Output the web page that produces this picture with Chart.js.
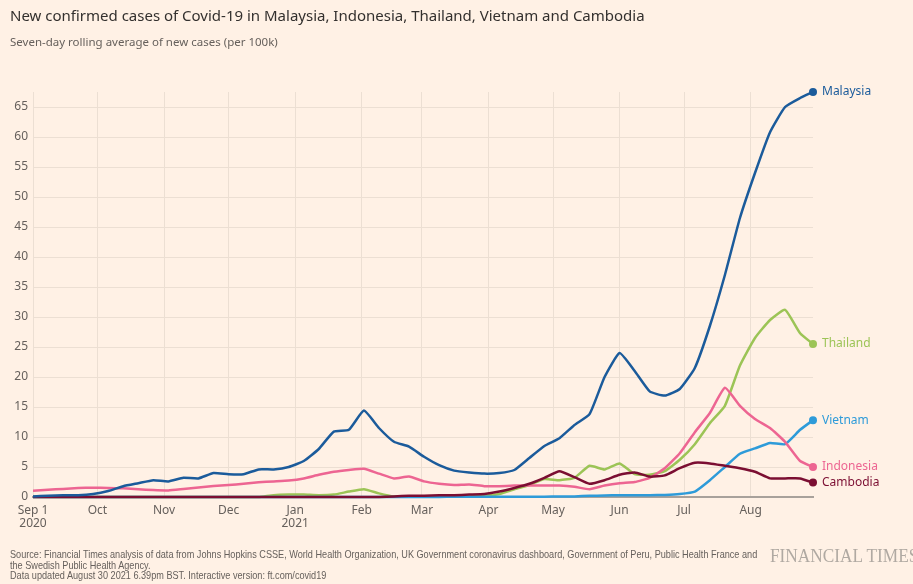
<!DOCTYPE html>
<html>
<head>
<meta charset="utf-8">
<script src="https://cdn.jsdelivr.net/npm/chart.js@4.4.0/dist/chart.umd.min.js"></script>
<style>
  body { margin: 0; background: #fff1e5; }
  #wrap { position: relative; width: 913px; height: 584px; overflow: hidden; background: #fff1e5; }
  #chart { position: absolute; left: 0; top: 0; }
  .title { position: absolute; left: 10px; top: 5px; font: 15px "Noto Sans", sans-serif; color: #33302e; white-space: nowrap; }
  .sub { position: absolute; left: 10px; top: 34px; font: 11.5px "Noto Sans", sans-serif; color: #66605c; white-space: nowrap; }
  .foot { position: absolute; left: 10px; top: 549px; font: 10.5px "Liberation Sans Narrow", "Liberation Sans", sans-serif; color: #66605c; line-height: 10.5px; white-space: nowrap; transform: scaleX(0.87); transform-origin: 0 0; }
  .logo { position: absolute; left: 770px; top: 546px; font: 18px "Liberation Serif", serif; color: #b0a9a2; white-space: nowrap; transform: scaleX(0.96); transform-origin: 0 0; }
</style>
</head>
<body>
<div id="wrap">
  <canvas id="chart" width="913" height="584"></canvas>
  <div class="title">New confirmed cases of Covid-19 in Malaysia, Indonesia, Thailand, Vietnam and Cambodia</div>
  <div class="sub">Seven-day rolling average of new cases (per 100k)</div>
  <div class="foot">Source: Financial Times analysis of data from Johns Hopkins CSSE, World Health Organization, UK Government coronavirus dashboard, Government of Peru, Public Health France and<br>the Swedish Public Health Agency.<br>Data updated August 30 2021 6.39pm BST. Interactive version: ft.com/covid19</div>
  <div class="logo">FINANCIAL TIMES</div>
</div>
<script>
// days since Sep 1 2020
const days = [0,7,14,21,28,35,42,49,56,63,70,77,84,91,98,105,112,119,126,133,140,147,154,161,168,175,182,189,196,203,210,217,224,231,238,245,252,259,266,273,280,287,294,301,308,315,322,329,336,343,350,357,363];

const malaysia = [0.1,0.2,0.3,0.3,0.5,1.0,1.8,2.3,2.8,2.6,
  3.2,3.1,4.0,3.8,3.8,4.6,4.6,5.0,6.0,8.0,
  10.9,11.2,14.4,11.5,9.2,8.4,6.7,5.3,4.4,4.1,
  3.9,4.0,4.5,6.5,8.5,9.8,12.0,13.8,20.0,24.0,
  21.0,17.6,16.9,18.0,21.5,28.5,37.0,46.5,54.0,60.8,
  65.0,66.5,67.5];
const thailand = [0,0,0,0,0,0,0,0,0,0,0,0,0,0,0,0,
  0.3,0.4,0.4,0.3,0.4,0.9,1.3,0.6,0.1,0.1,
  0.1,0.1,0.1,0.1,0.2,0.5,1.3,2.0,3.0,2.8,
  3.2,5.2,4.6,5.6,3.8,3.7,4.3,6.2,8.8,12.3,
  15.2,21.9,26.5,29.5,31.2,27.3,25.5];
const indonesia = [1.05,1.2,1.35,1.5,1.55,1.5,1.45,1.3,1.15,1.1,
  1.35,1.6,1.85,2.0,2.2,2.45,2.6,2.75,3.1,3.7,
  4.2,4.5,4.7,3.9,3.1,3.4,2.6,2.2,2.0,2.1,
  1.8,1.8,1.9,1.9,1.9,1.9,1.7,1.3,1.9,2.3,
  2.5,3.2,4.8,7.3,10.8,14.0,18.2,15.2,13.0,11.5,
  9.2,6.0,5.0];
const vietnam = [0,0,0,0,0,0,0,0,0,0,0,0,0,0,0,0,0,0,0,0,0,0,0,0,0,0,0,0,
  0.05,0.05,0.05,0.05,0.05,0.05,0.05,
  0.1,0.1,0.2,0.25,0.3,0.3,0.3,0.35,0.5,0.9,
  2.8,5.0,7.2,8.1,9.0,8.8,11.2,12.8];
const cambodia = [0,0,0,0,0,0,0,0,0,0,0,0,0,0,0,0,0,0,0,0,0,0,0,0,
  0.1,0.2,0.2,0.3,0.3,0.4,0.5,0.9,1.5,2.2,
  3.2,4.3,3.3,2.2,2.8,3.7,4.1,3.4,3.6,4.8,
  5.7,5.6,5.2,4.8,4.2,3.1,3.1,3.1,2.4];

const monthDays = [0,30,61,91,122,153,181,212,242,273,303,334];
const monthLabels = [['Sep 1','2020'],'Oct','Nov','Dec',['Jan','2021'],'Feb','Mar','Apr','May','Jun','Jul','Aug'];
const yTicks = [0,5,10,15,20,25,30,35,40,45,50,55,60,65];

const series = [
  { name: 'Malaysia', values: malaysia, color: '#1b5b9b' },
  { name: 'Cambodia', values: cambodia, color: '#7b0e32' },
  { name: 'Indonesia', values: indonesia, color: '#ed6592' },
  { name: 'Vietnam', values: vietnam, color: '#2e9bd9' },
  { name: 'Thailand', values: thailand, color: '#9cc456' }
];

const tickColor = '#66605c';
const gridColor = '#ecdfd3';

const endLabels = {
  id: 'endLabels',
  afterDatasetsDraw(chart) {
    const ctx = chart.ctx;
    ctx.save();
    ctx.font = '12px "Noto Sans", sans-serif';
    ctx.textBaseline = 'middle';
    ctx.textAlign = 'left';
    chart.data.datasets.forEach((ds, i) => {
      const meta = chart.getDatasetMeta(i);
      const pt = meta.data[meta.data.length - 1];
      ctx.fillStyle = ds.borderColor;
      ctx.fillText(ds.label, pt.x + 9, pt.y);
    });
    ctx.restore();
  }
};

Chart.defaults.font.family = '"Noto Sans", sans-serif';

new Chart(document.getElementById('chart'), {
  type: 'line',
  data: {
    datasets: series.map(s => ({
      label: s.name,
      data: days.map((d, i) => ({ x: d, y: s.values[i] })),
      borderColor: s.color,
      backgroundColor: s.color,
      borderWidth: 2.5,
      pointRadius: ctx => ctx.dataIndex === days.length - 1 ? 4 : 0,
      pointBorderWidth: 0,
      tension: 0.15,
      clip: false
    }))
  },
  options: {
    responsive: false,
    devicePixelRatio: 1,
    animation: false,
    events: [],
    layout: { padding: { top: 92, right: 100, left: 0, bottom: 0 } },
    plugins: { legend: { display: false }, tooltip: { enabled: false } },
    scales: {
      x: {
        type: 'linear',
        min: 0,
        max: 363,
        afterBuildTicks: s => { s.ticks = monthDays.map(v => ({ value: v })); },
        afterFit: s => { s.height = 87; },
        ticks: {
          callback: (v, i) => monthLabels[i],
          color: tickColor,
          font: { size: 12, lineHeight: 1.1 },
          padding: 7,
          maxRotation: 0,
          autoSkip: false
        },
        grid: { color: gridColor, drawTicks: false },
        border: { display: true, color: '#a8a19b', width: 2 }
      },
      y: {
        min: 0,
        max: 67.5,
        afterBuildTicks: s => { s.ticks = yTicks.map(v => ({ value: v })); },
        afterFit: s => { s.width = 33; },
        ticks: { color: tickColor, font: { size: 12 }, padding: 5 },
        grid: { color: gridColor, drawTicks: false },
        border: { display: false }
      }
    }
  },
  plugins: [endLabels]
});
</script>
</body>
</html>
